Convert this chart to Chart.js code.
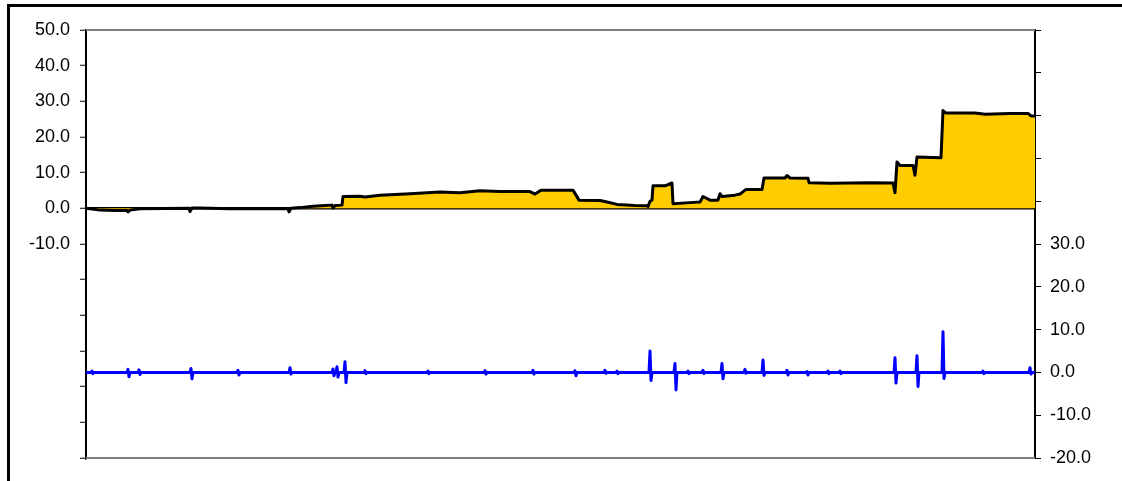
<!DOCTYPE html>
<html>
<head>
<meta charset="utf-8">
<script src="https://cdn.jsdelivr.net/npm/chart.js@4/dist/chart.umd.min.js"></script>
<style>
  body { margin: 0; background: #fff; }
  #wrap { position: absolute; left: 0; top: 0; width: 1122px; height: 481px; }
  #frame { position: absolute; left: 7px; top: 4px; width: 1200px; height: 600px;
           border-left: 3px solid #000; border-top: 3px solid #000; pointer-events: none; }
</style>
</head>
<body>
<div id="wrap"><canvas id="myChart"></canvas></div>
<div id="frame"></div>
<script>
// 累積系列 (左軸) : 日番号と値
var cumDays = [0, 6, 14, 29, 41, 42, 44, 54, 103, 104, 106, 114, 144, 174, 202, 203, 205, 214, 227, 239,
  246, 247, 249, 256, 257, 274, 279, 294, 324, 354, 374, 394, 414, 444, 449, 455, 487, 493, 514, 519,
  531, 549, 561, 562, 564, 566, 567, 579, 586, 587, 604, 614, 617, 620, 624, 632, 634, 636, 649, 654,
  660, 676, 678, 699, 701, 704, 722, 723, 744, 764, 784, 807, 809, 811, 814, 827, 829, 831, 855, 857,
  860, 889, 899, 924, 942, 945, 949];
var cumVals = [0.0, -0.2, -0.5, -0.6, -0.6, -1.0, -0.5, -0.1, 0.0, -0.9, 0.1, 0.1, -0.1, -0.1, -0.1, -1.0, 0.0, 0.2, 0.6, 0.8,
  0.9, 0.1, 0.8, 0.9, 3.3, 3.4, 3.2, 3.7, 4.1, 4.6, 4.4, 4.9, 4.7, 4.7, 4.0, 5.1, 5.1, 2.3, 2.2, 1.9,
  1.1, 0.8, 0.7, 0.5, 2.0, 2.3, 6.3, 6.3, 7.1, 1.3, 1.6, 1.8, 3.3, 2.9, 2.3, 2.3, 4.1, 3.3, 3.7, 4.0,
  5.3, 5.3, 8.5, 8.5, 9.2, 8.5, 8.4, 7.2, 7.0, 7.1, 7.2, 7.1, 4.4, 13.0, 12.0, 12.0, 9.3, 14.4, 14.2, 27.4,
  26.7, 26.7, 26.4, 26.6, 26.6, 25.9, 25.9];

// 日次変化 (右軸) : スパイクのある日と上下の値
var spikeDays = [6, 42, 53, 105, 152, 204, 247, 251, 259, 279, 342, 399, 447, 489, 519, 531,
  564, 589, 602, 617, 636, 659, 677, 701, 721, 742, 754, 809, 831, 857, 897, 944];
var spikeUp   = [0.3, 0.7, 0.6, 0.9, 0.5, 1.1, 0.8, 1.3, 2.5, 0.4, 0.3, 0.4, 0.5, 0.4, 0.5, 0.3,
  5.0, 2.1, 0.3, 0.5, 2.1, 0.7, 2.9, 0.5, 0.2, 0.3, 0.3, 3.4, 3.9, 9.5, 0.3, 1.1];
var spikeDown = [-0.3, -1.0, -0.5, -1.5, -0.6, -0.4, -0.8, -1.1, -2.4, -0.3, -0.3, -0.4, -0.4, -0.8, -0.2, -0.3,
  -1.9, -4.1, -0.3, -0.3, -1.5, -0.2, -0.7, -0.6, -0.6, -0.3, -0.3, -2.5, -3.3, -1.4, -0.3, -0.4];

// 軸の範囲
var leftMin = -70, leftMax = 50;
var rightMin = -20, rightMax = 80;
var lastDay = 949;

var cumData = cumDays.map((d, i) => ({x: d, y: cumVals[i]}));

var dailyData = [{x: 0, y: 0}];
for (let i = 0; i < spikeDays.length; i++) {
  const d = spikeDays[i];
  dailyData.push({x: d - 1, y: 0});
  dailyData.push({x: d, y: spikeUp[i]});
  dailyData.push({x: d + 1, y: spikeDown[i]});
  dailyData.push({x: d + 2, y: 0});
}
dailyData.push({x: lastDay, y: 0});

// プロット枠 (上下の灰色線)
const plotFrame = {
  id: 'plotFrame',
  beforeDatasetsDraw(chart) {
    const a = chart.chartArea, c = chart.ctx;
    c.save();
    c.strokeStyle = '#808080';
    c.lineWidth = 2;
    c.beginPath();
    c.moveTo(a.left, a.top); c.lineTo(a.right, a.top);
    c.moveTo(a.left, a.bottom); c.lineTo(a.right, a.bottom);
    c.stroke();
    c.restore();
  }
};

const ctx = document.getElementById('myChart').getContext('2d');
var myChart = new Chart(ctx, {
  type: 'line',
  data: {
    datasets: [
      {
        data: cumData,
        yAxisID: 'y',
        borderColor: '#000000',
        borderWidth: 3,
        borderJoinStyle: 'round',
        backgroundColor: '#FFCC00',
        fill: 'origin',
        pointRadius: 0,
        tension: 0
      },
      {
        data: dailyData,
        yAxisID: 'y2',
        borderColor: '#0000FF',
        borderWidth: 3,
        borderJoinStyle: 'round',
        fill: false,
        pointRadius: 0,
        tension: 0
      }
    ]
  },
  options: {
    responsive: true,
    maintainAspectRatio: false,
    animation: false,
    layout: { padding: { left: 0, right: 0, top: 30, bottom: 23 } },
    plugins: { legend: { display: false }, tooltip: { enabled: false } },
    scales: {
      x: { type: 'linear', min: 0, max: lastDay, display: false },
      y: {
        position: 'left',
        min: leftMin, max: leftMax,
        z: 1,
        afterFit: s => { s.width = 86; },
        border: { color: '#000', width: 2 },
        grid: {
          color: c => c.tick && c.tick.value === 0 ? '#000' : 'rgba(0,0,0,0)',
          lineWidth: 2.5,
          tickColor: '#000',
          tickWidth: 1,
          tickLength: 6
        },
        ticks: {
          stepSize: 10, autoSkip: false, padding: 10, color: '#000',
          font: { family: 'Liberation Sans', size: 18 },
          callback: v => v >= -10 ? v.toFixed(1) : ''
        }
      },
      y2: {
        position: 'right',
        min: rightMin, max: rightMax,
        afterFit: s => { s.width = 87; },
        border: { color: '#000', width: 2 },
        grid: { drawOnChartArea: false, tickColor: '#000', tickWidth: 1, tickLength: 6 },
        ticks: {
          stepSize: 10, autoSkip: false, padding: 9, color: '#000',
          font: { family: 'Liberation Sans', size: 18 },
          callback: v => v <= 30 ? v.toFixed(1) : ''
        }
      }
    }
  },
  plugins: [plotFrame]
});
</script>
</body>
</html>
